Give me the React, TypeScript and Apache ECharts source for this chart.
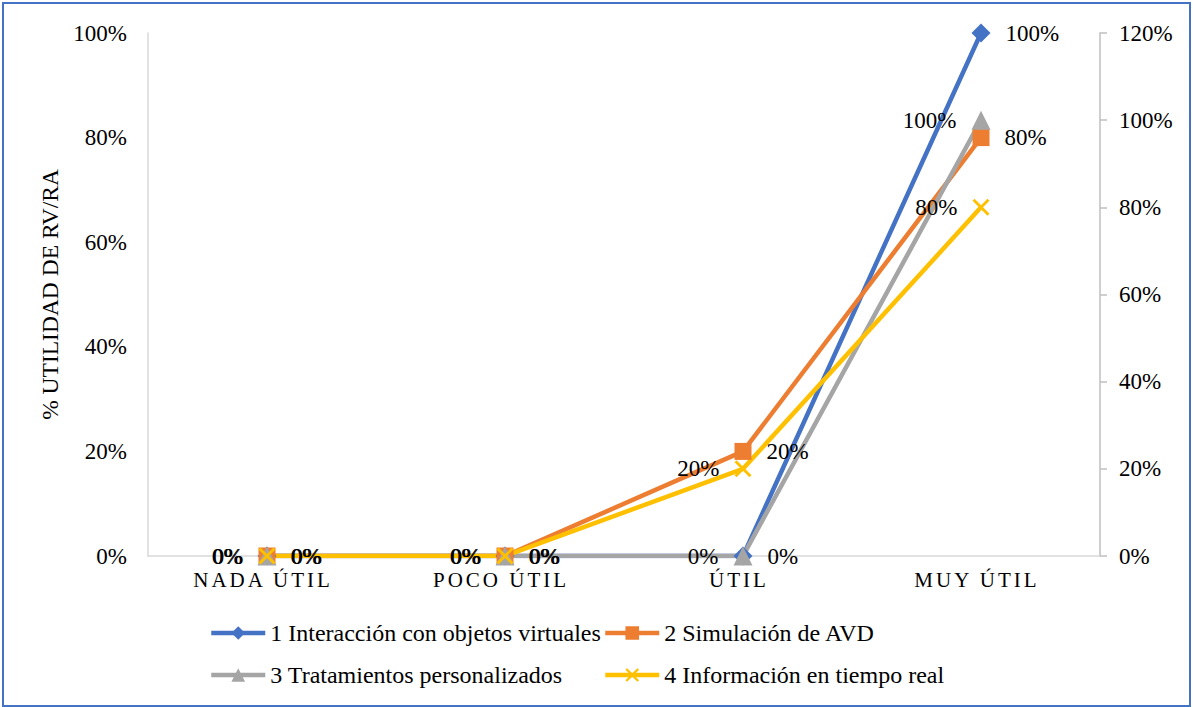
import React, { useEffect, useRef } from "react";
import * as echarts from "echarts";

// Categories on the x axis (drawn in capitals)
const categories = ["NADA ÚTIL", "POCO ÚTIL", "ÚTIL", "MUY ÚTIL"];

// Series names
const seriesNames = [
  "1 Interacción con objetos virtuales",
  "2 Simulación de AVD",
  "3 Tratamientos personalizados",
  "4 Información en tiempo real",
];

// Percent values per category
const interaccion = [0, 0, 0, 100]; // primary axis
const simulacion = [0, 0, 20, 80]; // primary axis
const tratamientos = [0, 0, 0, 100]; // secondary axis
const informacion = [0, 0, 20, 80]; // secondary axis

// Axis ranges
const leftMax = 100;
const rightMax = 120;
const axisStep = 20;

const colors = ["#4472C4", "#ED7D31", "#A5A5A5", "#FFC000"];
const FONT = "Liberation Serif";

const crossPath =
  "path://M0,1.2 L1.2,0 L5,3.8 L8.8,0 L10,1.2 L6.2,5 L10,8.8 L8.8,10 L5,6.2 L1.2,10 L0,8.8 L3.8,5 Z";

export default function App() {
  const ref = useRef<HTMLDivElement>(null);

  useEffect(() => {
    if (!ref.current) return;
    const chart = echarts.init(ref.current, undefined, { renderer: "svg" });

    const labelStyle = (pos: "left" | "right") => ({
      show: true,
      position: pos,
      distance: 15,
      formatter: "{c}%",
      fontSize: 23,
      fontFamily: FONT,
      color: "#000",
    });

    const mk = (
      i: number,
      data: number[],
      yAxisIndex: number,
      symbol: string,
      symbolSize: number,
      pos: "left" | "right"
    ) => ({
      name: seriesNames[i],
      type: "line",
      data,
      yAxisIndex,
      symbol,
      symbolSize,
      showAllSymbol: true,
      itemStyle: { color: colors[i] },
      lineStyle: { color: colors[i], width: 4.5 },
      label: labelStyle(pos),
      emphasis: { disabled: true },
      z: 2,
    });

    const legendBase = {
      orient: "vertical" as const,
      top: 616,
      itemWidth: 54,
      itemHeight: 17,
      itemGap: 18,
      lineStyle: { width: 4.5 },
      textStyle: { fontSize: 24, fontFamily: FONT, color: "#000" },
      selectedMode: false,
    };

    chart.setOption({
      animation: false,
      backgroundColor: "#fff",
      color: colors,
      grid: { left: 148, right: 93, top: 33, bottom: 151, containLabel: false },
      xAxis: {
        type: "category",
        data: categories,
        boundaryGap: true,
        axisLine: { lineStyle: { color: "#D9D9D9", width: 1.5 } },
        axisTick: { show: false },
        axisLabel: { margin: 13, fontSize: 21, fontFamily: FONT, color: "#000" },
        splitLine: { show: false },
      },
      yAxis: [
        {
          type: "value",
          min: 0,
          max: leftMax,
          interval: axisStep,
          position: "left",
          name: "% UTILIDAD DE RV/RA",
          nameLocation: "middle",
          nameRotate: 90,
          nameGap: 84,
          nameTextStyle: { fontSize: 23.5, fontFamily: FONT, color: "#000" },
          axisLine: { show: true, lineStyle: { color: "#D9D9D9", width: 1.5 } },
          axisTick: { show: false },
          axisLabel: { formatter: "{value}%", margin: 21, fontSize: 23, fontFamily: FONT, color: "#000" },
          splitLine: { show: false },
        },
        {
          type: "value",
          min: 0,
          max: rightMax,
          interval: axisStep,
          position: "right",
          axisLine: { show: true, lineStyle: { color: "#BFBFBF", width: 1.5 } },
          axisTick: { show: true, length: 7, lineStyle: { color: "#BFBFBF", width: 1.5 } },
          axisLabel: { formatter: "{value}%", margin: 19, fontSize: 23, fontFamily: FONT, color: "#000" },
          splitLine: { show: false },
        },
      ],
      legend: [
        { ...legendBase, left: 204, data: [seriesNames[0], seriesNames[2]] },
        { ...legendBase, left: 598, data: [seriesNames[1], seriesNames[3]] },
      ],
      series: [
        mk(0, interaccion, 0, "diamond", 19, "right"),
        mk(1, simulacion, 0, "rect", 17, "right"),
        mk(2, tratamientos, 1, "triangle", 19, "left"),
        mk(3, informacion, 1, crossPath, 17, "left"),
      ],
      graphic: [
        {
          type: "rect",
          shape: { x: 3, y: 3, width: 1187, height: 703 },
          style: { fill: "none", stroke: "#4472C4", lineWidth: 2 },
          silent: true,
          z: 100,
        },
      ],
    });

    // Spread out the letters of the category labels
    const texts = ref.current.querySelectorAll("text");
    texts.forEach((t) => {
      if (categories.includes((t.textContent || "").trim())) {
        t.setAttribute("letter-spacing", "3");
        t.setAttribute("dx", "-4");
      }
    });

    return () => chart.dispose();
  }, []);

  return (
    <div
      ref={ref}
      style={{ position: "absolute", left: 0, top: 0, width: 1193, height: 707, background: "#fff" }}
    />
  );
}
